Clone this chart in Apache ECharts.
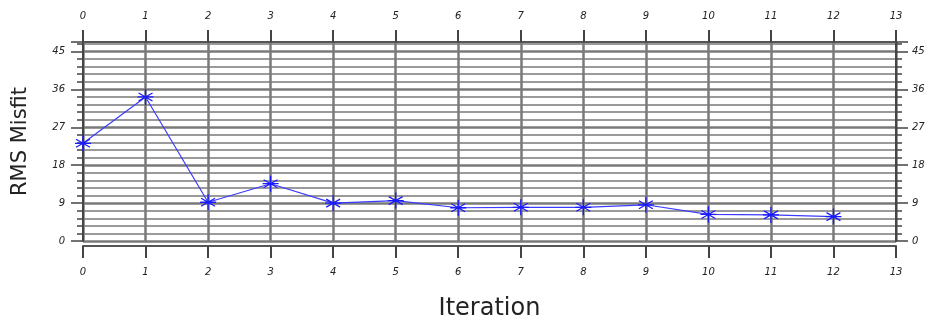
<!DOCTYPE html>
<html>
<head>
<meta charset="utf-8">
<script src="https://cdn.jsdelivr.net/npm/echarts@6/dist/echarts.min.js"></script>
<style>
  html, body { margin: 0; padding: 0; background: #fff; }
  #chart { width: 929px; height: 322px; }
</style>
</head>
<body>
<div id="chart"></div>
<script>
// values
const iterations = [0, 1, 2, 3, 4, 5, 6, 7, 8, 9, 10, 11, 12];
const rmsMisfit = [23.2, 34.2, 9.2, 13.6, 9.0, 9.6, 7.9, 8.0, 8.0, 8.6, 6.3, 6.2, 5.8];

const chart = echarts.init(document.getElementById('chart'));

const labelFont = {
  fontFamily: 'DejaVu Sans',
  fontStyle: 'italic',
  fontSize: 10,
  color: '#222'
};

// asterisk marker
const star = 'path://M0,-10L0,10M-8.7,-5L8.7,5M-8.7,5L8.7,-5M-10,0L10,0';

function xAxis(pos, offset) {
  return {
    type: 'value',
    position: pos,
    offset: offset,
    min: 0,
    max: 13,
    interval: 1,
    axisLine: { show: true, onZero: false, lineStyle: { color: '#555', width: 2 } },
    axisTick: { show: true, inside: false, length: 12, lineStyle: { color: '#444', width: 2 } },
    axisLabel: Object.assign({ margin: 21 }, labelFont),
    splitLine: { show: pos === 'bottom', lineStyle: { color: '#7a7a7a', width: 2.5 } }
  };
}

function yAxis(pos) {
  return {
    type: 'value',
    position: pos,
    min: 0,
    max: 47.25,
    interval: 9,
    axisLine: { show: true, onZero: false, lineStyle: { color: '#444', width: 2 } },
    axisTick: { show: true, inside: false, length: 12, lineStyle: { color: '#444', width: 1.5 } },
    minorTick: { show: true, splitNumber: 5, length: 6, lineStyle: { color: '#444', width: 1.5 } },
    axisLabel: Object.assign({
      margin: pos === 'left' ? 18 : 16,
      showMaxLabel: false,
      formatter: v => (v % 9 === 0 ? String(v) : '')
    }, labelFont),
    splitLine: { show: pos === 'left', lineStyle: { color: '#7a7a7a', width: 2.5 } },
    minorSplitLine: { show: pos === 'left', lineStyle: { color: '#9a9a9a', width: 2 } }
  };
}

const bottomX = xAxis('bottom', 5);
bottomX.name = 'Iteration';
bottomX.nameLocation = 'middle';
bottomX.nameGap = 51;
bottomX.nameTextStyle = { fontFamily: 'DejaVu Sans', fontSize: 24, color: '#222' };

const leftY = yAxis('left');
leftY.name = 'RMS Misfit';
leftY.nameLocation = 'middle';
leftY.nameGap = 52;
leftY.nameTextStyle = { fontFamily: 'DejaVu Sans', fontSize: 21, color: '#222' };

chart.setOption({
  animation: false,
  grid: { left: 83, right: 33, top: 42, bottom: 81, containLabel: false, outerBoundsMode: 'none' },
  xAxis: [bottomX, xAxis('top', 0)],
  yAxis: [leftY, yAxis('right')],
  series: [
    {
      type: 'line',
      data: iterations.map((it, i) => [it, rmsMisfit[i]]),
      symbol: star,
      symbolSize: 16,
      showAllSymbol: true,
      lineStyle: { color: '#3b3bff', width: 1.2 },
      itemStyle: { color: '#1a1aff', borderColor: '#1a1aff', borderWidth: 1.3 }
    }
  ]
});
</script>
</body>
</html>
